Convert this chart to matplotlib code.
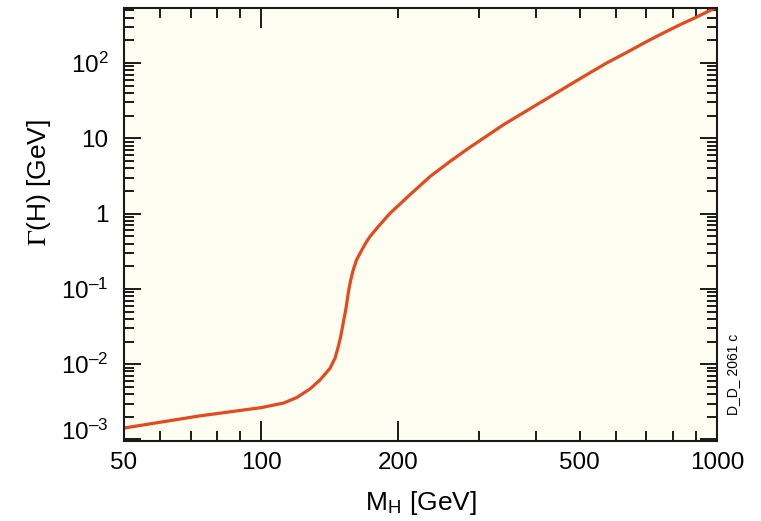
import matplotlib
matplotlib.use("Agg")
import matplotlib.pyplot as plt
from matplotlib.ticker import FixedLocator, FixedFormatter, NullFormatter
from matplotlib.transforms import ScaledTranslation

plt.rcParams['font.family'] = ['Liberation Sans', 'DejaVu Sans']
plt.rcParams['mathtext.fontset'] = 'stix'

# Higgs mass [GeV] and total width [GeV]
mass = [50, 73, 100, 112, 119.6, 128, 134.6, 141.5, 145.2, 147.6, 149.4,
        151.3, 153.5, 155.2, 157.2, 159.2, 161.9, 164.8, 169, 173.2, 180.7,
        191.7, 198.3, 212, 234.6, 259.5, 287, 312.4, 339.8, 369.6, 402.2,
        437.3, 475.6, 517.6, 572.8, 633.7, 701.5, 762.4, 829.5, 902.8, 973.5,
        1000]
width = [1.42e-3, 2.05e-3, 2.65e-3, 3.05e-3, 3.6e-3, 4.7e-3, 6.18e-3, 8.8e-3,
         0.0120, 0.0171, 0.0232, 0.035, 0.0555, 0.088, 0.132, 0.179, 0.243,
         0.298, 0.393, 0.495, 0.673, 1.01, 1.22, 1.78, 3.10, 4.92, 7.6, 10.7,
         15.1, 20.5, 27.9, 37.8, 51.4, 69.8, 100, 138, 193, 250, 322, 408,
         511, 550]

x_major = [50, 100, 200, 500, 1000]
x_major_labels = ['50', '100', '200', '500', '1000']
x_minor = [60, 70, 80, 90, 300, 400, 600, 700, 800, 900]

y_major = [1e-3, 1e-2, 1e-1, 1, 10, 100]
y_major_labels = ['$\\mathregular{10^{\u2013 3}}$', '$\\mathregular{10^{\u2013 2}}$',
                  '$\\mathregular{10^{\u2013 1}}$', '1', '10', '$\\mathregular{10^{2}}$']
y_minor = [m * 10.0 ** e for e in range(-4, 3) for m in range(2, 10)]

fig = plt.figure(figsize=(7.61, 5.21), dpi=100)
ax = fig.add_axes([124 / 761, 1 - 441 / 521, (717 - 124) / 761, (441 - 8) / 521])
ax.set_facecolor('#fdfdf1')

ax.plot(mass, width, color='#e34a1f', lw=2.3, solid_joinstyle='round')

ax.set_xscale('log')
ax.set_yscale('log')
ax.set_xlim(50, 1000)
ax.set_ylim(10 ** -3.02, 10 ** 2.73)

ax.xaxis.set_major_locator(FixedLocator(x_major))
ax.xaxis.set_major_formatter(FixedFormatter(x_major_labels))
ax.xaxis.set_minor_locator(FixedLocator(x_minor))
ax.xaxis.set_minor_formatter(NullFormatter())
ax.yaxis.set_major_locator(FixedLocator(y_major))
ax.yaxis.set_major_formatter(FixedFormatter(y_major_labels))
ax.yaxis.set_minor_locator(FixedLocator(y_minor))
ax.yaxis.set_minor_formatter(NullFormatter())

for s in ax.spines.values():
    s.set_linewidth(1.5)
    s.set_color('#1a1a1a')

ax.tick_params(which='both', direction='in', top=True, right=True,
               width=1.4, color='#1a1a1a', labelsize=17.5)
ax.tick_params(axis='x', which='major', length=14.4, pad=8)
ax.tick_params(axis='x', which='minor', length=7.2)
ax.tick_params(axis='y', which='major', length=12, pad=11)
ax.tick_params(axis='y', which='minor', length=7)

# 500 is drawn short, and only 100 is long on the top edge
xt = ax.xaxis.get_major_ticks()
xt[3].tick1line.set_markersize(7.2)
xt[3].tick2line.set_markersize(7.2)
xt[2].tick2line.set_markersize(7.2)

# lowest y label sits a little above the corner
lab = ax.yaxis.get_major_ticks()[0].label1
lab.set_transform(lab.get_transform() + ScaledTranslation(0, 10 / 100, fig.dpi_scale_trans))

ax.set_xlabel(r'M$_\mathregular{H}$ [GeV]', fontsize=19, va='top')
ax.xaxis.set_label_coords(0.5, -0.112)
ax.set_ylabel(r'$\Gamma$(H) [GeV]', fontsize=19)
ax.yaxis.set_label_coords(-0.12, 0.598)

fig.text(733 / 761, 1 - 374 / 521, 'D_D_ 2061 c', rotation=90,
         ha='center', va='center', fontsize=10)

fig.savefig('out.png', dpi=100)
